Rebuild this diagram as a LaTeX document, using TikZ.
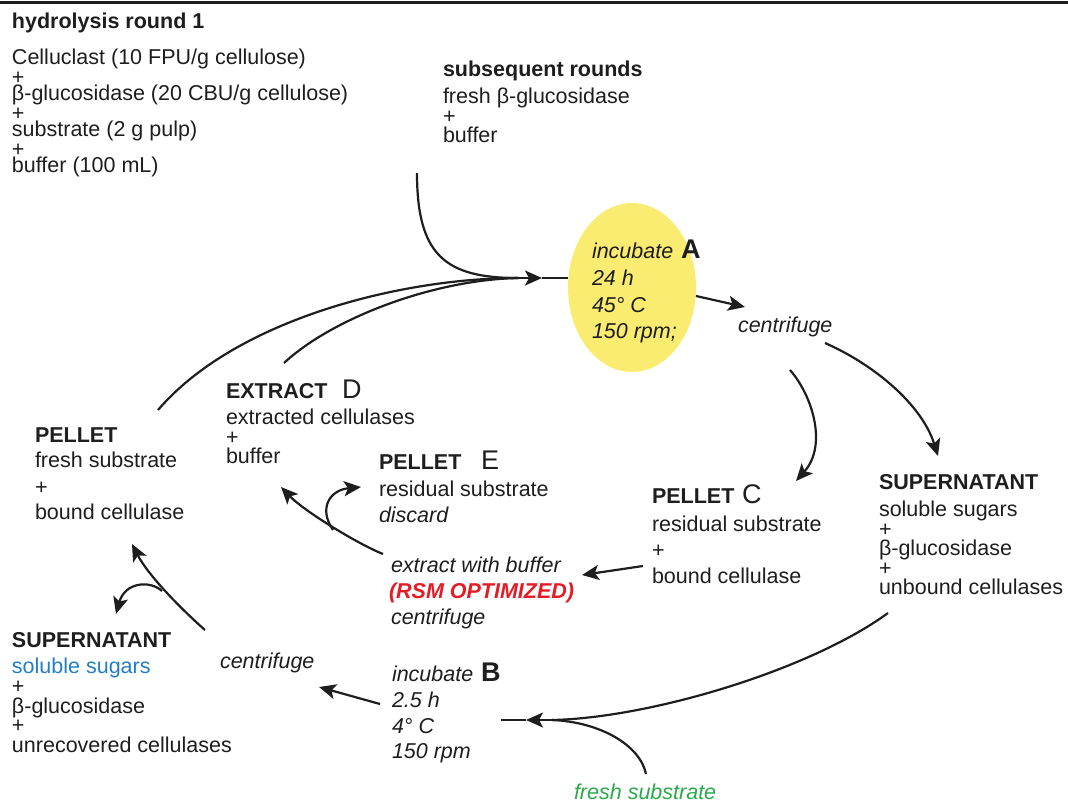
\documentclass[tikz,border=0pt]{standalone}
\usepackage{fontspec}
\setmainfont{Liberation Sans}
\usetikzlibrary{arrows.meta,shapes.geometric}
\definecolor{ink}{RGB}{30,30,30}
\definecolor{ellfill}{RGB}{249,236,112}
\definecolor{rsmred}{RGB}{228,28,38}
\definecolor{sugblue}{RGB}{35,125,200}
\definecolor{fsgreen}{RGB}{40,170,75}
\newcommand{\fsN}{\fontsize{21.5}{26}\selectfont}
\newcommand{\fsL}{\fontsize{27}{30}\selectfont}
\begin{document}
\begin{tikzpicture}[x=1pt,y=-1pt,
  t/.style={anchor=base west, inner sep=0pt, outer sep=0pt, text=ink, font=\fsN},
  tb/.style={t, font=\fsN\bfseries},
  ti/.style={t, font=\fsN\itshape},
  big/.style={t, font=\fsL},
  bigb/.style={t, font=\fsL\bfseries},
  con/.style={draw=ink, line width=2.2pt},
  arr/.style={con, -{Stealth[length=17pt,width=15pt,inset=4pt]}},
]
\useasboundingbox (0,0) rectangle (1068,803);
% top rule
\coordinate (ruleL) at (0,2.5);
\coordinate (ruleR) at (1068,2.5);
\draw[ink, line width=2.5pt] (ruleL) -- (ruleR);

% ellipse A
\node[ellipse, fill=ellfill, draw=none, minimum width=128pt, minimum height=169pt, inner sep=0pt] (ellA) at (632,287.5) {};

% hydrolysis round 1
\node[tb] (h0) at (12,28) {hydrolysis round 1};
\node[t] (h1) at (12,64) {Celluclast (10 FPU/g cellulose)};
\node[t] (h1p) at (12,84) {+};
\node[t] (h2) at (12,100) {β-glucosidase (20 CBU/g cellulose)};
\node[t] (h2p) at (12,120) {+};
\node[t] (h3) at (12,136) {substrate (2 g pulp)};
\node[t] (h3p) at (12,156) {+};
\node[t] (h4) at (12,172) {buffer (100 mL)};

% subsequent rounds
\node[tb] (s0) at (443,76) {subsequent rounds};
\node[t] (s1) at (443,103) {fresh β-glucosidase};
\node[t] (s1p) at (443,123) {+};
\node[t] (s2) at (443,142) {buffer};

% incubate A
\node[ti] (a1) at (592,258) {incubate};
\node[bigb] (lA) at (681,258) {A};
\node[ti] (a2) at (592,285) {24 h};
\node[ti] (a3) at (592,312) {45° C};
\node[ti] (a4) at (592,338) {150 rpm;};

\node[ti] (cf1) at (738,332) {centrifuge};

% PELLET C
\node[tb] (pc0) at (652,503) {PELLET};
\node[big] (lC) at (742,503) {C};
\node[t] (pc1) at (652,531) {residual substrate};
\node[t] (pc1p) at (652,557) {+};
\node[t] (pc2) at (652,583) {bound cellulase};

% SUPERNATANT right
\node[tb] (sr0) at (879,489) {SUPERNATANT};
\node[t] (sr1) at (879,516) {soluble sugars};
\node[t] (sr1p) at (879,536) {+};
\node[t] (sr2) at (879,555) {β-glucosidase};
\node[t] (sr2p) at (879,575) {+};
\node[t] (sr3) at (879,594) {unbound cellulases};

% extract with buffer
\node[ti] (x1) at (391,572) {extract with buffer};
\node[t, font=\fsN\bfseries\itshape, text=rsmred] (x2) at (389,598) {(RSM OPTIMIZED)};
\node[ti] (x3) at (391,624) {centrifuge};

% PELLET E
\node[tb] (pe0) at (379,469) {PELLET};
\node[big] (lE) at (481,469) {E};
\node[t] (pe1) at (379,496) {residual substrate};
\node[ti] (pe2) at (379,522) {discard};

% EXTRACT D
\node[tb] (ed0) at (226,398) {EXTRACT};
\node[big] (lD) at (342,398) {D};
\node[t] (ed1) at (226,424) {extracted cellulases};
\node[t] (ed1p) at (226,444) {+};
\node[t] (ed2) at (226,463) {buffer};

% PELLET left
\node[tb] (pl0) at (35,442) {PELLET};
\node[t] (pl1) at (35,467) {fresh substrate};
\node[t] (pl1p) at (35,494) {+};
\node[t] (pl2) at (35,519) {bound cellulase};

% SUPERNATANT left
\node[tb] (sl0) at (12,647) {SUPERNATANT};
\node[t, text=sugblue] (sl1) at (12,673) {soluble sugars};
\node[t] (sl1p) at (12,693) {+};
\node[t] (sl2) at (12,713) {β-glucosidase};
\node[t] (sl2p) at (12,732) {+};
\node[t] (sl3) at (12,752) {unrecovered cellulases};

\node[ti] (cf2) at (220,668) {centrifuge};

% incubate B
\node[ti] (b1) at (392,681) {incubate};
\node[bigb] (lB) at (481,681) {B};
\node[ti] (b2) at (392,707) {2.5 h};
\node[ti] (b3) at (392,733) {4° C};
\node[ti] (b4) at (392,758) {150 rpm};

\node[ti, text=fsgreen] (fs) at (574,799) {fresh substrate};

% ---- connectors ----
\coordinate (sStart) at (417,173);
\coordinate (plTop) at (158,410);
\coordinate (edTop) at (284,363);
\coordinate (jA) at (518,278);
\coordinate (tipA) at (542,278);
\coordinate (inA) at (568,278);
\draw[con] (sStart) .. controls (417,255) and (445,278) .. (jA);
\draw[con] (plTop) .. controls (235,320) and (400,278) .. (jA);
\draw[con] (edTop) .. controls (330,320) and (430,280) .. (jA);
\draw[arr] (jA) -- (tipA);
\draw[con] (tipA) -- (inA);

% A -> centrifuge
\coordinate (outA) at (696,296);
\coordinate (tipCf1) at (745,307);
\draw[arr] (outA) -- (tipCf1);

% centrifuge -> supernatant right
\coordinate (cf1R) at (825,343);
\coordinate (tipSr) at (938,456);
\draw[arr] (cf1R) .. controls (875,365) and (922,405) .. (tipSr);

% centrifuge -> pellet C
\coordinate (cf1B) at (790,370);
\coordinate (tipPc) at (796,481);
\draw[arr] (cf1B) .. controls (812,395) and (828,445) .. (tipPc);

% pellet C -> extract
\coordinate (pcL) at (643,566);
\coordinate (tipX) at (582,575);
\draw[arr] (pcL) -- (tipX);

% extract -> EXTRACT D, branch -> PELLET E
\coordinate (xTop) at (383,554);
\coordinate (jE) at (333,530);
\coordinate (tipEd) at (281,487);
\coordinate (tipPe) at (361,487);
\draw[arr] (xTop) .. controls (360,545) and (305,512) .. (tipEd);
\draw[arr] (jE) .. controls (318,508) and (330,490) .. (tipPe);

% centrifuge left -> PELLET left, branch -> SUPERNATANT left
\coordinate (cf2T) at (205,630);
\coordinate (jL) at (162,591);
\coordinate (tipPl) at (132,544);
\coordinate (tipSl) at (116,614);
\draw[arr] (cf2T) .. controls (180,608) and (148,575) .. (tipPl);
\draw[arr] (jL) .. controls (150,580) and (125,582) .. (tipSl);

% incubate B -> centrifuge left
\coordinate (bL) at (380,704);
\coordinate (tipCf2) at (319,687);
\draw[arr] (bL) -- (tipCf2);

% supernatant right -> B, fresh substrate -> B
\coordinate (srB) at (888,613);
\coordinate (fsT) at (646,774);
\coordinate (jB) at (552,720);
\coordinate (tipB) at (526,720);
\coordinate (endB) at (501,720);
\draw[con] (srB) .. controls (810,670) and (650,718) .. (jB);
\draw[con] (fsT) .. controls (640,745) and (600,722) .. (jB);
\draw[arr] (jB) -- (tipB);
\draw[con] (tipB) -- (endB);
\end{tikzpicture}
\end{document}
